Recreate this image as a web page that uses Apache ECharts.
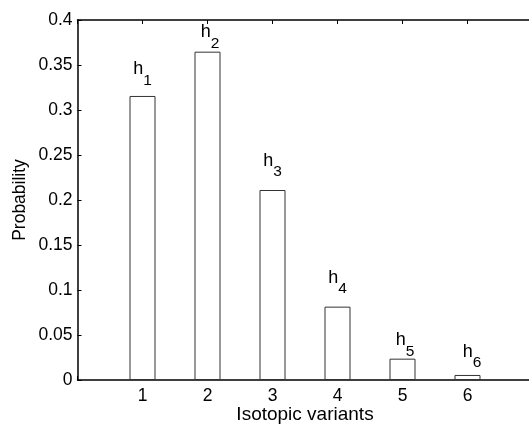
<!DOCTYPE html>
<html>
<head>
<meta charset="utf-8">
<script src="https://cdn.jsdelivr.net/npm/echarts@6/dist/echarts.min.js"></script>
<style>html,body{margin:0;padding:0;background:#fff;}#c{width:529px;height:425px;}</style>
</head>
<body>
<div id="c"></div>
<script>
const variants = [1, 2, 3, 4, 5, 6];
const probabilities = [0.3156, 0.3648, 0.2111, 0.0815, 0.0237, 0.0056];
const barLabels = ['1', '2', '3', '4', '5', '6'];
const labelX = [1.0, 2.04, 3.0, 4.0, 5.04, 6.07];
const labelY = [0.334, 0.375, 0.232, 0.102, 0.033, 0.020];
const yTickStep = 0.05;
const xLabelText = 'Isotopic variants';
const yLabelText = 'Probability';

const FONT = 'Liberation Sans';
const chart = echarts.init(document.getElementById('c'), null, {renderer: 'canvas'});
const barData = variants.map((v, i) => [v, probabilities[i]]);
const labelData = labelX.map((x, i) => [x, labelY[i]]);

chart.setOption({
  animation: false,
  backgroundColor: '#fff',
  grid: {left: 77.5, top: 20, width: 455, height: 360, containLabel: false, outerBoundsMode: 'none'},
  xAxis: [{
    type: 'value', min: 0, max: 7, interval: 1,
    name: xLabelText, nameLocation: 'middle', nameGap: 25, nameMoveOverlap: false,
    nameTextStyle: {fontFamily: FONT, fontSize: 19, color: '#000'},
    axisLine: {show: true, onZero: false, lineStyle: {color: '#000', width: 1.5}},
    axisTick: {show: true, inside: true, length: 4, lineStyle: {color: '#000'}},
    axisLabel: {fontFamily: FONT, fontSize: 17.5, color: '#000', margin: 7,
      formatter: v => (v >= 1 && v <= 6) ? String(v) : ''},
    splitLine: {show: false}
  }, {
    type: 'value', position: 'top', min: 0, max: 7, interval: 1,
    axisLine: {show: true, onZero: false, lineStyle: {color: '#000', width: 1.5}},
    axisTick: {show: true, inside: true, length: 4, lineStyle: {color: '#000'}},
    axisLabel: {show: false}, splitLine: {show: false}
  }],
  yAxis: [{
    type: 'value', min: 0, max: 0.4, interval: yTickStep,
    name: yLabelText, nameLocation: 'middle', nameGap: 48, nameMoveOverlap: false,
    nameTextStyle: {fontFamily: FONT, fontSize: 17.5, color: '#000'},
    axisLine: {show: true, onZero: false, lineStyle: {color: '#000', width: 1.5}},
    axisTick: {show: true, inside: true, length: 4, lineStyle: {color: '#000'}},
    axisLabel: {fontFamily: FONT, fontSize: 17.5, color: '#000', margin: 5,
      formatter: v => String(Math.round(v * 100) / 100)},
    splitLine: {show: false}
  }],
  series: [{
    type: 'bar', data: barData, barWidth: 26, z: 2,
    itemStyle: {color: '#fff', borderColor: '#333', borderWidth: 1}
  }, {
    type: 'scatter', data: labelData, symbolSize: 1, z: 3,
    itemStyle: {color: 'rgba(255,255,255,0)'},
    label: {
      show: true, position: 'inside', color: '#000', textBorderWidth: 0, opacity: 1,
      formatter: p => '{h|h}{s|' + barLabels[p.dataIndex] + '}',
      rich: {
        h: {fontFamily: FONT, fontSize: 18, color: '#000', textBorderWidth: 0, lineHeight: 18, padding: [0, 0, 10, 0], verticalAlign: 'bottom'},
        s: {fontFamily: FONT, fontSize: 15.5, color: '#000', textBorderWidth: 0, lineHeight: 15, verticalAlign: 'bottom'}
      }
    },
    emphasis: {disabled: true}
  }]
});
</script>
</body>
</html>
